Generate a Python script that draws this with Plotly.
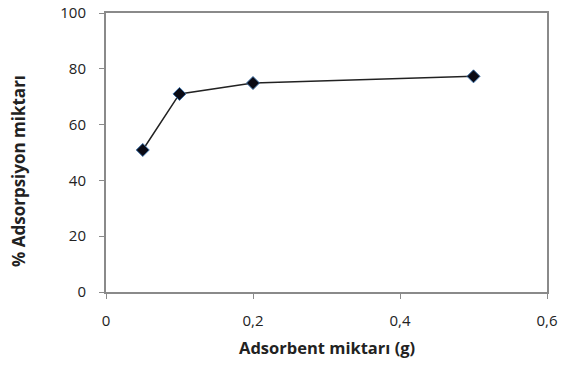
import plotly.graph_objects as go

adsorbent_g = [0.05, 0.1, 0.2, 0.5]
adsorption_pct = [50.9, 71.0, 74.9, 77.3]
x_ticks = [0, 0.2, 0.4, 0.6]
x_tick_labels = ["0", "0,2", "0,4", "0,6"]
y_ticks = [0, 20, 40, 60, 80, 100]
x_title = "<b>Adsorbent miktarı (g)</b>"
y_title = "<b>% Adsorpsiyon miktarı</b>"

fig = go.Figure()
fig.add_trace(go.Scatter(
    x=adsorbent_g, y=adsorption_pct, mode="lines+markers",
    line=dict(color="#222222", width=1.5),
    marker=dict(symbol="diamond", size=10, color="#0a0a14",
                line=dict(color="#3a6ea5", width=1)),
    showlegend=False,
))

font_family = "Open Sans, Liberation Sans, sans-serif"
fig.update_layout(
    width=573, height=372,
    margin=dict(l=106, r=26, t=13, b=80, autoexpand=False),
    paper_bgcolor="white", plot_bgcolor="white",
    font=dict(family=font_family, color="#222222", size=15),
    xaxis=dict(
        range=[0, 0.6], tickvals=x_ticks, ticktext=x_tick_labels,
        showgrid=False, zeroline=False, automargin=False,
        showline=True, linecolor="#8a8a8a", linewidth=2, mirror=True,
        ticks="outside", ticklen=5, tickcolor="#8a8a8a", tickwidth=1,
        ticklabelstandoff=9,
    ),
    yaxis=dict(
        range=[0, 100], tickvals=y_ticks,
        showgrid=False, zeroline=False, automargin=False,
        showline=True, linecolor="#8a8a8a", linewidth=2, mirror=True,
        ticks="outside", ticklen=5, tickcolor="#8a8a8a", tickwidth=1,
        ticklabelstandoff=10,
    ),
    annotations=[
        dict(text=x_title, xref="paper", yref="paper", x=0.5, y=-0.2,
             xanchor="center", yanchor="middle", showarrow=False,
             font=dict(size=16.5, color="#222222")),
        dict(text=y_title, xref="paper", yref="paper", x=-0.197, y=0.434,
             xanchor="center", yanchor="middle", showarrow=False, textangle=-90,
             font=dict(size=17, color="#222222")),
    ],
)

fig.write_html("out.html")
